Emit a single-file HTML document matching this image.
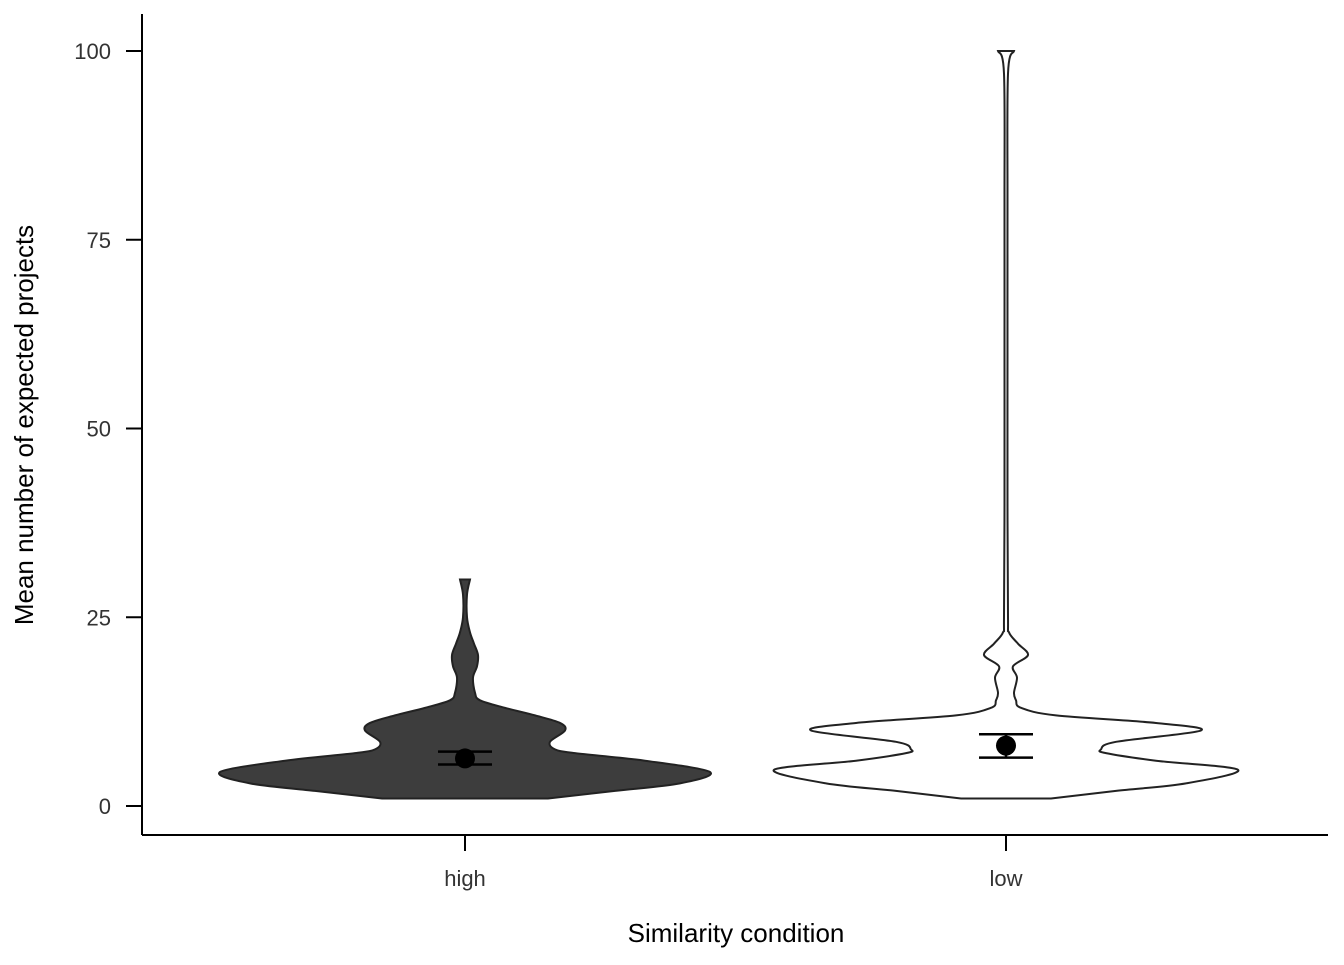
<!DOCTYPE html>
<html><head><meta charset="utf-8"><style>
body{margin:0;background:#fff;font-family:"Liberation Sans",sans-serif}
</style></head><body>
<svg width="1344" height="960" id="chart">
<g id="plot"></g>
</svg>
<script>
const categories=["high","low"];
const highY=[1,2,3,4.5,6,7,7.5,8.5,10,11,12,13,14,15,17,18.5,20,21.5,23,25,28,30];
const highW=[83,150,215,245,180,110,90,85,100,95,70,40,15,10,8,12,13,9,5,2,2,5];
const lowY=[1,2,3,4.8,6,7,7.5,8.5,10,11,12,13,14,15,17,18.5,20,21.5,23,25,40,60,80,97,100];
const lowW=[45,110,180,232,150,100,95,110,195,150,50,15,10,8,11,7,22,12,3,2,1.5,1.5,1.5,2,8];
const means=[6.3,8.0];
const errLo=[5.5,6.4];
const errHi=[7.2,9.5];
const yTicks=[0,25,50,75,100];
const svg=document.getElementById('chart');
const g=document.getElementById('plot');
const NS='http://www.w3.org/2000/svg';
const yS=v=>806-v*7.55;
const xS=i=>465+i*541;
function mk(t,a,p){const e=document.createElementNS(NS,t);for(const k in a)e.setAttribute(k,a[k]);(p||g).appendChild(e);return e;}
function crPath(pts){let d='M'+pts[0][0]+','+pts[0][1];for(let i=0;i<pts.length-1;i++){const p0=pts[Math.max(0,i-1)],p1=pts[i],p2=pts[i+1],p3=pts[Math.min(pts.length-1,i+2)];const c1=[p1[0]+(p2[0]-p0[0])/6,p1[1]+(p2[1]-p0[1])/6],c2=[p2[0]-(p3[0]-p1[0])/6,p2[1]-(p3[1]-p1[1])/6];d+=` C${c1[0]},${c1[1]} ${c2[0]},${c2[1]} ${p2[0]},${p2[1]}`;}return d;}
function violin(i,ys,ws,fill,name){const cx=xS(i);const right=ys.map((y,k)=>[cx+ws[k],yS(y)]);const left=ys.map((y,k)=>[cx-ws[k],yS(y)]).reverse();
let d=crPath(right)+' L'+left[0][0]+','+left[0][1]+crPath(left).replace(/^M[^C]*/,' ')+' Z';
const p=mk('path',{d:d,fill:fill,stroke:'#222','stroke-width':2});

}
violin(0,highY,highW,'#3d3d3d','violin-high');
violin(1,lowY,lowW,'#fff','violin-low');
mk('line',{x1:142,y1:14,x2:142,y2:835,stroke:'#000','stroke-width':2,});
mk('line',{x1:142,y1:835,x2:1328,y2:835,stroke:'#000','stroke-width':2,});
yTicks.forEach(t=>{const y=yS(t);
const l=mk('line',{x1:126,y1:y,x2:142,y2:y,stroke:'#000','stroke-width':2});


const tx=mk('text',{x:111,y:y+8,'text-anchor':'end','font-size':22,fill:'#333'});tx.textContent=t;

});
categories.forEach((c,i)=>{const x=xS(i);
const l=mk('line',{x1:x,y1:835,x2:x,y2:851,stroke:'#000','stroke-width':2});


const tx=mk('text',{x:x,y:886,'text-anchor':'middle','font-size':22,fill:'#333'});tx.textContent=c;


const e=mk('path',{d:`M${x-27},${yS(errHi[i])}H${x+27}M${x-27},${yS(errLo[i])}H${x+27}M${x},${yS(errHi[i])}V${yS(errLo[i])}`,stroke:'#000','stroke-width':2.5,fill:'none'});


const m=mk('circle',{cx:x,cy:yS(means[i]),r:10,fill:'#000'});

});
const xt=mk('text',{x:736,y:942,'text-anchor':'middle','font-size':26,fill:'#000'});xt.textContent='Similarity condition';


const yt=mk('text',{x:0,y:0,'text-anchor':'middle','font-size':26,fill:'#000',transform:'translate(33,425) rotate(-90)'});yt.textContent='Mean number of expected projects';


</script>
</body></html>
